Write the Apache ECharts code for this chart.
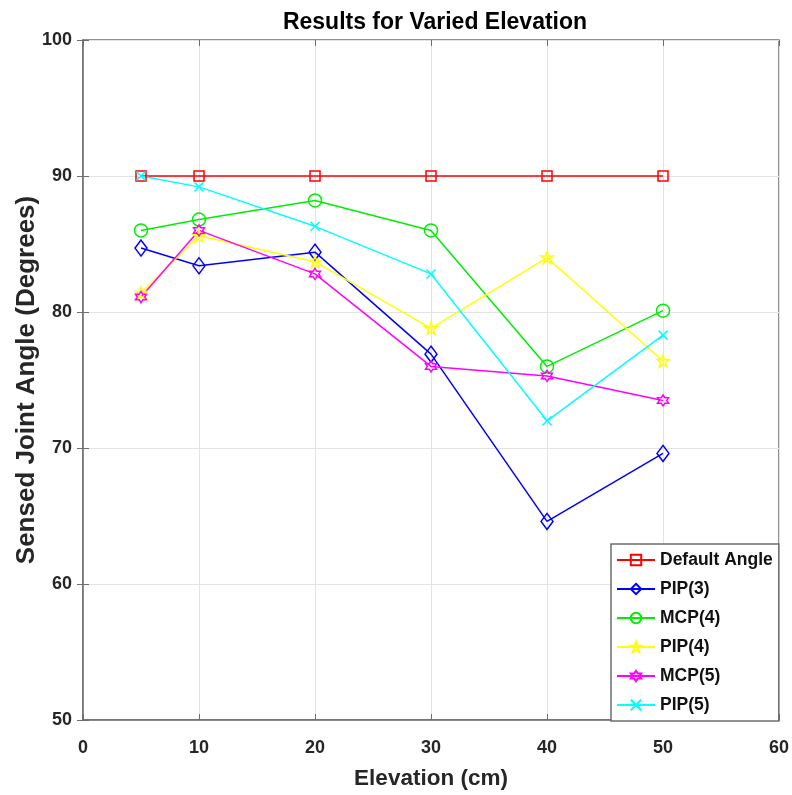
<!DOCTYPE html>
<html><head><meta charset="utf-8">
<script src="https://cdn.jsdelivr.net/npm/echarts@6/dist/echarts.min.js"></script>
<style>html,body{margin:0;padding:0;background:#fff}#c{width:792px;height:795px}</style>
</head><body><div id="c"></div>
<script>
const elevations = [5, 10, 20, 30, 40, 50];
const defaultAngle = [90, 90, 90, 90, 90, 90];
const pip3 = [84.7, 83.4, 84.4, 76.9, 64.6, 69.6];
const mcp4 = [86.0, 86.8, 88.2, 86.0, 76.0, 80.1];
const pip4 = [81.4, 85.6, 83.7, 78.8, 84.0, 76.4];
const mcp5 = [81.1, 86.0, 82.8, 76.0, 75.3, 73.5];
const pip5 = [90.0, 89.2, 86.3, 82.8, 72.0, 78.3];
const xTicks = [0, 10, 20, 30, 40, 50, 60];
const yTicks = [50, 60, 70, 80, 90, 100];

const FONT = '"Liberation Sans", Arial, sans-serif';

const star5 = 'path://M50,0 L61.8,35.4 L100,35.4 L69.1,57.3 L80.9,95.1 L50,72.7 L19.1,95.1 L30.9,57.3 L0,35.4 L38.2,35.4 Z';
const star6 = 'path://M50,0 L64.4,25 L93.3,25 L78.9,50 L93.3,75 L64.4,75 L50,100 L35.6,75 L6.7,75 L21.1,50 L6.7,25 L35.6,25 Z';
const xMark = 'path://M0,0 L100,100 M100,0 L0,100';

function mk(name, data, color, symbol, size) {
  return {
    name: name, type: 'line',
    data: elevations.map((x, i) => [x, data[i]]),
    symbol: symbol, symbolSize: size, showAllSymbol: true,
    lineStyle: {color: color, width: 1.5},
    itemStyle: {color: 'rgba(255,255,255,0)', borderColor: color, borderWidth: 1.5},
    emphasis: {disabled: true},
    animation: false
  };
}

const chart = echarts.init(document.getElementById('c'), null, {renderer: 'canvas'});
const tickTxt = {color: '#262626', fontWeight: 'bold', fontSize: 18, fontFamily: FONT};
chart.setOption({
  backgroundColor: '#fff',
  animation: false,
  title: {text: 'Results for Varied Elevation', left: 430, top: 6, textAlign: 'center',
    textStyle: {color: '#000', fontWeight: 'bold', fontSize: 23, fontFamily: FONT}},
  grid: {left: 83, right: 13, top: 40, bottom: 75, show: true, borderColor: '#6e6e6e', borderWidth: 1.5,
    containLabel: false, outerBoundsMode: 'none'},
  legend: {
    orient: 'vertical', left: 611, top: 544, itemWidth: 38, itemHeight: 13, itemGap: 9,
    padding: [6, 6, 6, 5],
    backgroundColor: '#fff', borderColor: '#6e6e6e', borderWidth: 1.5,
    textStyle: {color: '#111', fontWeight: 'bold', fontSize: 17.5, lineHeight: 20, fontFamily: FONT},
    data: ['Default Angle', 'PIP(3)', 'MCP(4)', 'PIP(4)', 'MCP(5)', 'PIP(5)']
  },
  xAxis: [{
    type: 'value', min: 0, max: 60, interval: 10,
    name: 'Elevation (cm)', nameLocation: 'middle', nameGap: 47, nameMoveOverlap: false,
    nameTextStyle: {color: '#262626', fontWeight: 'bold', fontSize: 22.5, fontFamily: FONT},
    axisLine: {show: true, lineStyle: {color: '#6e6e6e', width: 1.5}},
    axisTick: {show: true, inside: true, length: 6, lineStyle: {color: '#6e6e6e'}},
    axisLabel: Object.assign({margin: 19, formatter: v => xTicks.includes(v) ? String(v) : ''}, tickTxt),
    splitLine: {show: true, lineStyle: {color: '#e3e3e3', width: 1}}
  }, {
    type: 'value', min: 0, max: 60, interval: 10, position: 'top',
    axisLine: {show: false}, axisLabel: {show: false}, splitLine: {show: false},
    axisTick: {show: true, inside: true, length: 6, lineStyle: {color: '#6e6e6e'}}
  }],
  yAxis: [{
    type: 'value', min: 50, max: 100, interval: 10,
    name: 'Sensed Joint Angle (Degrees)', nameLocation: 'middle', nameGap: 43, nameMoveOverlap: false,
    nameTextStyle: {color: '#262626', fontWeight: 'bold', fontSize: 26, fontFamily: FONT},
    axisLine: {show: true, lineStyle: {color: '#6e6e6e', width: 1.5}},
    axisTick: {show: true, inside: true, length: 6, lineStyle: {color: '#6e6e6e'}},
    axisLabel: Object.assign({margin: 11, formatter: v => yTicks.includes(v) ? String(v) : ''}, tickTxt),
    splitLine: {show: true, lineStyle: {color: '#e3e3e3', width: 1}}
  }, {
    type: 'value', min: 50, max: 100, interval: 10, position: 'right',
    axisLine: {show: false}, axisLabel: {show: false}, splitLine: {show: false},
    axisTick: {show: true, inside: true, length: 6, lineStyle: {color: '#6e6e6e'}}
  }],
  series: [
    mk('Default Angle', defaultAngle, '#ff0000', 'rect', 10),
    mk('PIP(3)', pip3, '#0000ff', 'diamond', [12, 16]),
    mk('MCP(4)', mcp4, '#00ee00', 'circle', 13),
    mk('PIP(4)', pip4, '#ffff00', star5, 12),
    mk('MCP(5)', mcp5, '#ff00ff', star6, 11),
    mk('PIP(5)', pip5, '#00ffff', xMark, 9)
  ]
});
</script></body></html>
